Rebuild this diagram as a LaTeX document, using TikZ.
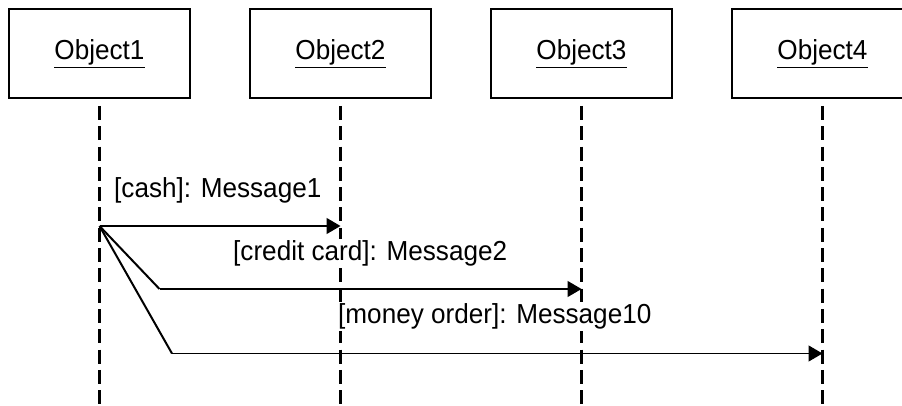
\documentclass[tikz,border=0pt]{standalone}
\usepackage{fontspec}
\setmainfont{Liberation Sans}
\newfontfamily\umlfont[FakeStretch=0.95]{Liberation Sans}
\usetikzlibrary{arrows.meta}
\begin{document}
\begin{tikzpicture}[x=1pt,y=-1pt,
  objbox/.style={draw=black,line width=1.2pt,minimum width=181pt,minimum height=89pt,
    inner sep=0pt,font=\umlfont\fontsize{27.5}{30}\selectfont},
  lifeline/.style={line width=2.3pt,dash pattern=on 14pt off 6.3pt},
  msg/.style={line width=1.4pt,-{Triangle[length=14pt,width=16pt]}},
  branch/.style={line width=2pt},
  msglabel/.style={anchor=base west,fill=white,inner xsep=0pt,inner ysep=1.5pt,
    font=\umlfont\fontsize{27.5}{30}\selectfont}]
\useasboundingbox (0,0) rectangle (902,406);
\clip (0,0) rectangle (902,406);

% objects
\node[objbox] (obj1) at (99.5,53.5) {\underline{Object1}};
\node[objbox] (obj2) at (340.5,53.5) {\underline{Object2}};
\node[objbox] (obj3) at (581.5,53.5) {\underline{Object3}};
\node[objbox] (obj4) at (822.5,53.5) {\underline{Object4}};

% lifeline ends
\coordinate (l1top) at (99.5,106);  \coordinate (l1bot) at (99.5,408);
\coordinate (l2top) at (340.5,106); \coordinate (l2bot) at (340.5,408);
\coordinate (l3top) at (581.5,106); \coordinate (l3bot) at (581.5,408);
\coordinate (l4top) at (822.5,106); \coordinate (l4bot) at (822.5,408);

\draw[lifeline] (l1top) -- (l1bot);
\draw[lifeline] (l2top) -- (l2bot);
\draw[lifeline] (l3top) -- (l3bot);
\draw[lifeline] (l4top) -- (l4bot);

% message points
\coordinate (src) at (99.5,226);
\coordinate (m1end) at (340.5,226);
\coordinate (m2bend) at (159.5,289);
\coordinate (m2end) at (581.5,289);
\coordinate (m3bend) at (172,353.5);
\coordinate (m3end) at (822.5,353.5);

% messages
\draw[msg] (src) -- (m1end);
\draw[branch] (src) -- (m2bend);
\draw[msg] (m2bend) -- (m2end);
\draw[branch] (src) -- (m3bend);
\draw[msg] (m3bend) -- (m3end);

% guard labels (opaque, covering the lifelines behind them)
\node[msglabel] (lab1) at (114,198) {[cash]: Message1};
\node[msglabel] (lab2) at (233,260) {[credit card]: Message2};
\node[msglabel] (lab3) at (338,323.5) {[money order]: Message10};
\end{tikzpicture}
\end{document}
